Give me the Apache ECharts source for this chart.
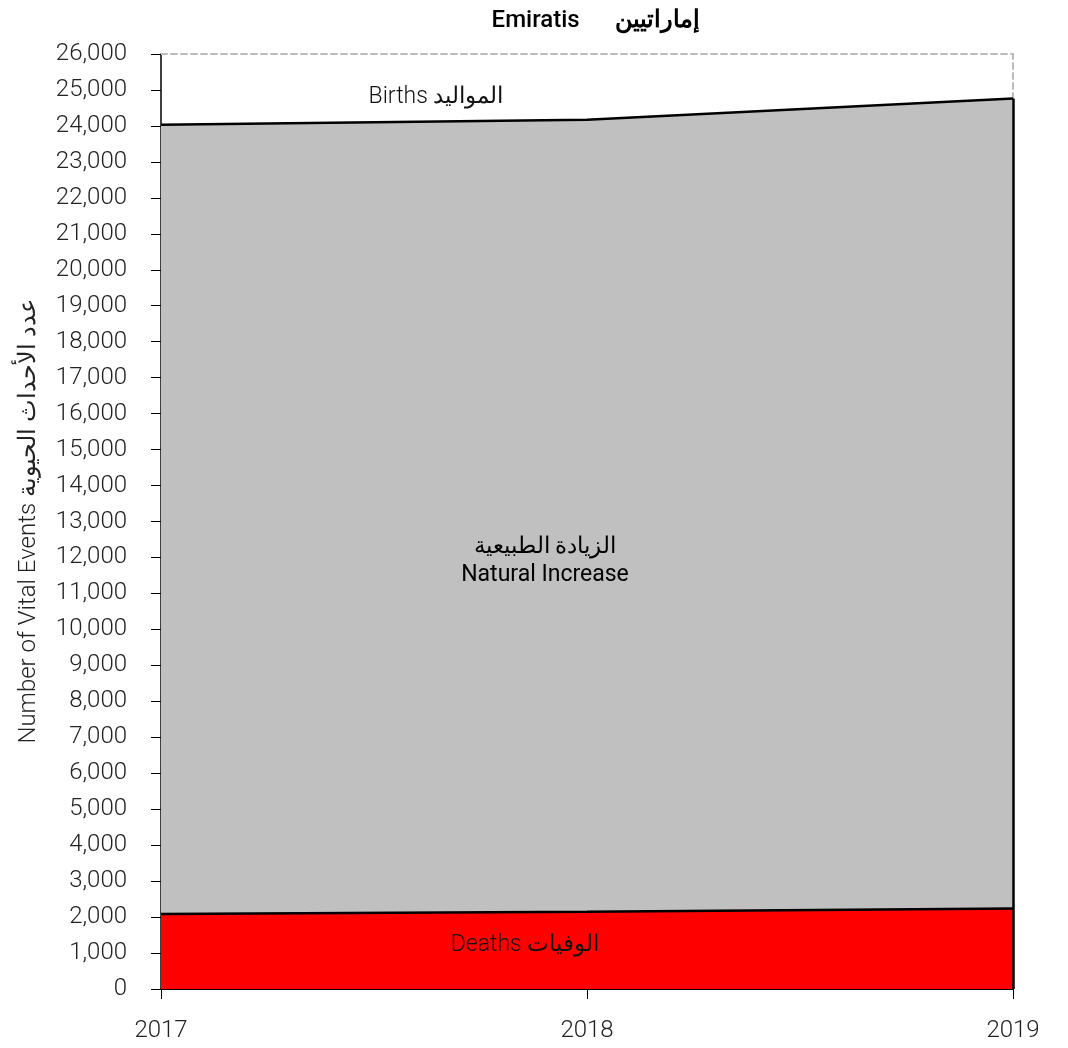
<!DOCTYPE html>
<html>
<head>
<meta charset="utf-8">
<script src="https://cdn.jsdelivr.net/npm/echarts@6/dist/echarts.min.js"></script>
<style>
html,body{margin:0;padding:0;background:#fff;}
#chart{width:1068px;height:1048px;}
</style>
</head>
<body>
<div id="chart"></div>
<script>
const years = ['2017', '2018', '2019'];
const births = [24030, 24170, 24760];
const deaths = [2085, 2150, 2240];
const yTicks = { min: 0, max: 26000, interval: 1000 };

const naturalIncrease = births.map((b, i) => b - deaths[i]);
const FONT = 'Roboto';

const chart = echarts.init(document.getElementById('chart'));
chart.setOption({
  backgroundColor: '#fff',
  animation: false,
  title: {
    text: '{en|Emiratis}      {ar|إماراتيين}',
    left: 591, top: 4, textAlign: 'center',
    textStyle: {
      fontFamily: FONT, fontSize: 24, color: '#000',
      rich: {
        en: { fontFamily: FONT, fontSize: 24, fontWeight: 500, color: '#000' },
        ar: { fontFamily: FONT, fontSize: 24, fontWeight: 'bold', color: '#000' }
      }
    }
  },
  grid: { left: 161, right: 55, top: 54, bottom: 59 },
  xAxis: [{
    type: 'category', data: years, boundaryGap: false,
    axisLine: { onZero: false, lineStyle: { color: '#000', width: 2 } },
    axisTick: { show: true, length: 10, lineStyle: { color: '#000', width: 1 } },
    axisLabel: { fontFamily: FONT, fontWeight: 300, fontSize: 24, color: '#222', margin: 30 },
    splitLine: { show: false }
  }, {
    type: 'category', data: years, boundaryGap: false, position: 'top',
    axisLine: { onZero: false, lineStyle: { color: '#bbb', width: 2, type: [6, 4] } },
    axisTick: { show: false }, axisLabel: { show: false }
  }],
  yAxis: [{
    type: 'value', min: yTicks.min, max: yTicks.max, interval: yTicks.interval,
    name: 'Number of Vital Events عدد الأحداث الحيوية',
    nameLocation: 'middle', nameGap: 120, nameRotate: 90,
    nameTextStyle: { fontFamily: FONT, fontWeight: 300, fontSize: 24, color: '#222' },
    axisLine: { show: true, onZero: false, lineStyle: { color: '#000', width: 1.5 } },
    axisTick: { show: true, length: 10, lineStyle: { color: '#000', width: 1 } },
    axisLabel: {
      fontFamily: FONT, fontWeight: 300, fontSize: 24, color: '#222', margin: 34,
      formatter: v => v.toLocaleString('en-US')
    },
    splitLine: { show: false }
  }, {
    type: 'value', min: yTicks.min, max: yTicks.max, interval: yTicks.interval, position: 'right',
    axisLine: { show: true, onZero: false, lineStyle: { color: '#bbb', width: 2, type: [6, 4] } },
    axisTick: { show: false }, axisLabel: { show: false }, splitLine: { show: false }
  }],
  series: [{
    name: 'Deaths', type: 'line', stack: 'total', data: deaths, symbol: 'none',
    lineStyle: { color: '#000', width: 2.5 },
    areaStyle: { color: '#ff0000', opacity: 1 }
  }, {
    name: 'Natural Increase', type: 'line', stack: 'total', data: naturalIncrease, symbol: 'none',
    lineStyle: { color: '#000', width: 2.5 },
    areaStyle: { color: '#c0c0c0', opacity: 1 },
    markLine: {
      symbol: 'none', silent: true, label: { show: false },
      lineStyle: { color: '#000', width: 2.5, type: 'solid' },
      data: [[{ coord: [years[2], 0] }, { coord: [years[2], births[2]] }]]
    }
  }],
  graphic: [{
    type: 'text', position: [436, 97], z: 100,
    style: { text: 'Births المواليد', fontFamily: FONT, fontWeight: 300, fontSize: 23, fill: '#111', align: 'center', verticalAlign: 'middle' }
  }, {
    type: 'text', position: [545, 561], z: 100,
    style: { text: 'الزيادة الطبيعية\nNatural Increase', fontFamily: FONT, fontWeight: 400, fontSize: 23, lineHeight: 28, fill: '#000', align: 'center', verticalAlign: 'middle' }
  }, {
    type: 'text', position: [525, 945], z: 100,
    style: { text: 'Deaths الوفيات', fontFamily: FONT, fontWeight: 300, fontSize: 23, fill: '#111', align: 'center', verticalAlign: 'middle' }
  }]
});
</script>
</body>
</html>
